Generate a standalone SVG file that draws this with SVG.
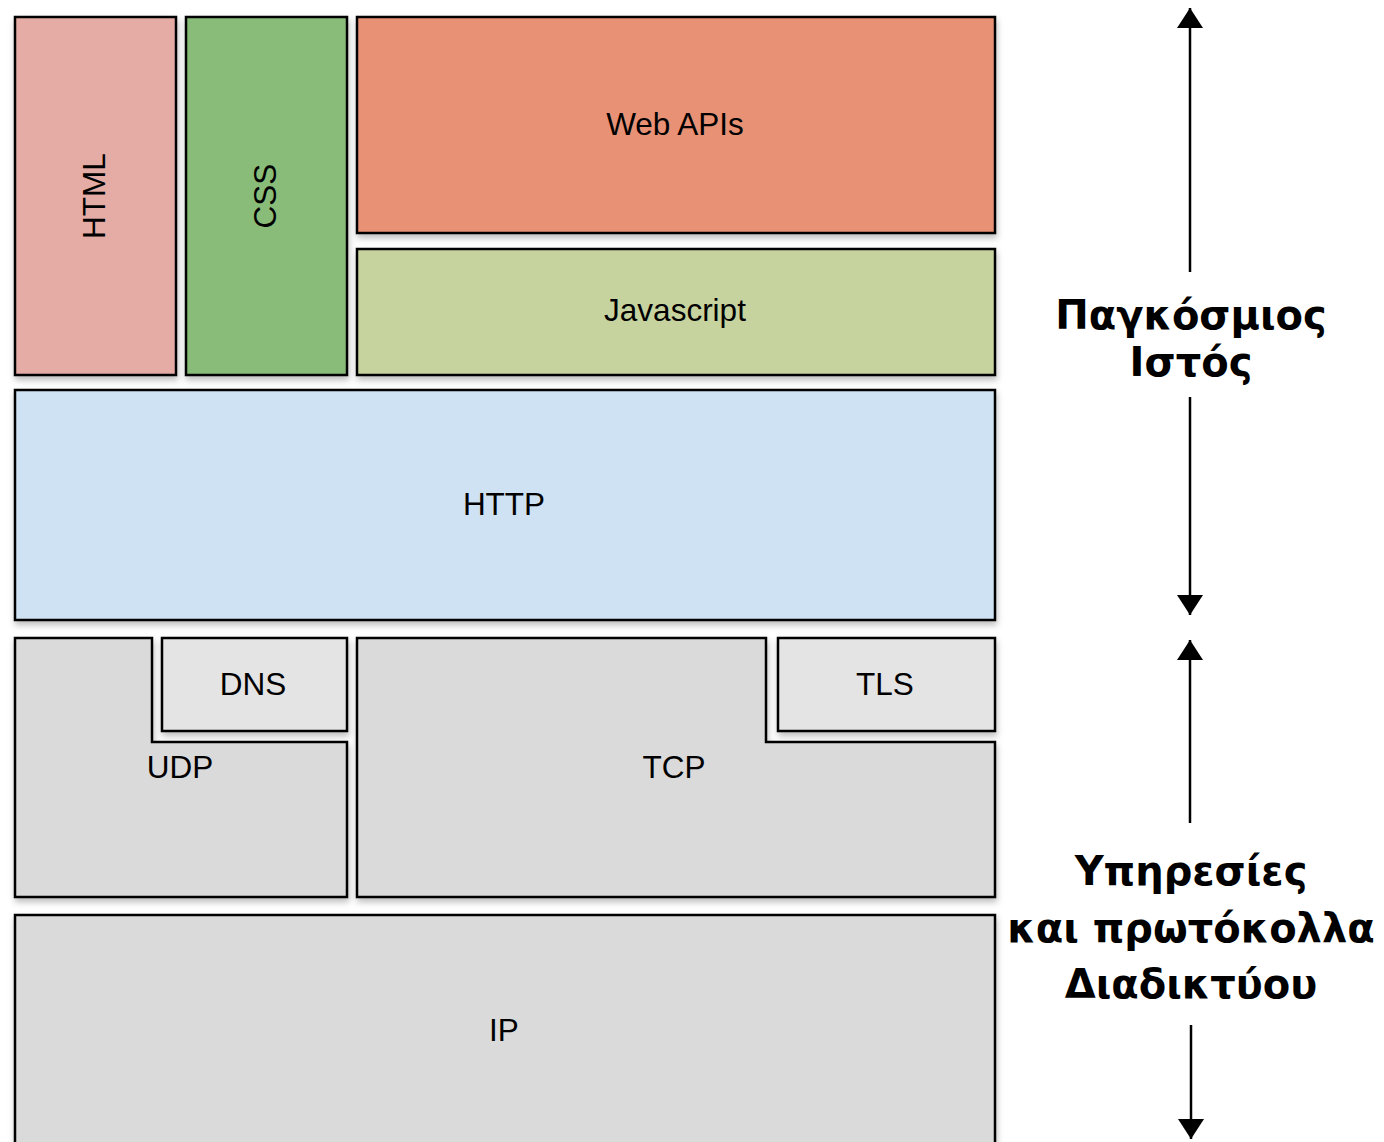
<svg xmlns="http://www.w3.org/2000/svg" width="1384" height="1142" viewBox="0 0 1384 1142">
<defs>
<filter id="sh" x="-5%" y="-5%" width="110%" height="115%">
<feDropShadow dx="1" dy="4" stdDeviation="3" flood-color="#000" flood-opacity="0.25"/>
</filter>
<marker id="ah" viewBox="0 0 20 26" refX="20" refY="13" markerWidth="20" markerHeight="26" markerUnits="userSpaceOnUse" orient="auto">
<path d="M0,0 L26,13 L0,26 Z" fill="#000" transform="scale(0.77,1)"/>
</marker>
</defs>
<style>
.box{stroke:#000;stroke-width:2.5;filter:url(#sh)}
.lbl{font-family:"Liberation Sans",Arial,sans-serif;font-size:31.5px;fill:#000;text-anchor:middle}
.side{font-family:"DejaVu Sans",sans-serif;font-weight:bold;font-size:40px;fill:#000;text-anchor:middle}
.ln{stroke:#000;stroke-width:2.5;fill:none}
</style>
<rect width="1384" height="1142" fill="#fff"/>
<g id="html"><rect class="box" x="15" y="17" width="161" height="358" fill="#e5aca6"/><text class="lbl" transform="translate(105,196) rotate(-90)">HTML</text></g>
<g id="css"><rect class="box" x="186" y="17" width="161" height="358" fill="#89bb79"/><text class="lbl" transform="translate(276,196) rotate(-90)">CSS</text></g>
<g id="webapis"><rect class="box" x="357" y="17" width="638" height="216" fill="#e99174"/><text class="lbl" x="675" y="135">Web APIs</text></g>
<g id="javascript"><rect class="box" x="357" y="249" width="638" height="126" fill="#c7d39f"/><text class="lbl" x="675" y="321">Javascript</text></g>
<g id="http"><rect class="box" x="15" y="390" width="980" height="230" fill="#cfe2f3"/><text class="lbl" x="504" y="515">HTTP</text></g>
<g id="udp"><path class="box" d="M15,638 H152 V742 H347 V897 H15 Z" fill="#dadada"/><text class="lbl" x="180" y="778">UDP</text></g>
<g id="dns"><rect class="box" x="162" y="638" width="185" height="93" fill="#e4e4e4"/><text class="lbl" x="253" y="695">DNS</text></g>
<g id="tcp"><path class="box" d="M357,638 H766 V742 H995 V897 H357 Z" fill="#dadada"/><text class="lbl" x="674" y="778">TCP</text></g>
<g id="tls"><rect class="box" x="778" y="638" width="217" height="93" fill="#e4e4e4"/><text class="lbl" x="885" y="695">TLS</text></g>
<g id="ip"><rect class="box" x="15" y="915" width="980" height="240" fill="#dadada"/><text class="lbl" x="504" y="1041">IP</text></g>
<g id="connectors">
<line class="ln" x1="1190" y1="272" x2="1190" y2="8" marker-end="url(#ah)"/>
<line class="ln" x1="1190" y1="397" x2="1190" y2="615" marker-end="url(#ah)"/>
<line class="ln" x1="1190" y1="823" x2="1190" y2="640" marker-end="url(#ah)"/>
<line class="ln" x1="1191" y1="1025" x2="1191" y2="1139" marker-end="url(#ah)"/>
</g>
<g id="label-web"><text class="side" x="1191" y="329">Παγκόσμιος</text><text class="side" x="1191" y="376">Ιστός</text></g>
<g id="label-internet"><text class="side" x="1191" y="885">Υπηρεσίες</text><text class="side" x="1191" y="942">και πρωτόκολλα</text><text class="side" x="1191" y="998">Διαδικτύου</text></g>
</svg>
